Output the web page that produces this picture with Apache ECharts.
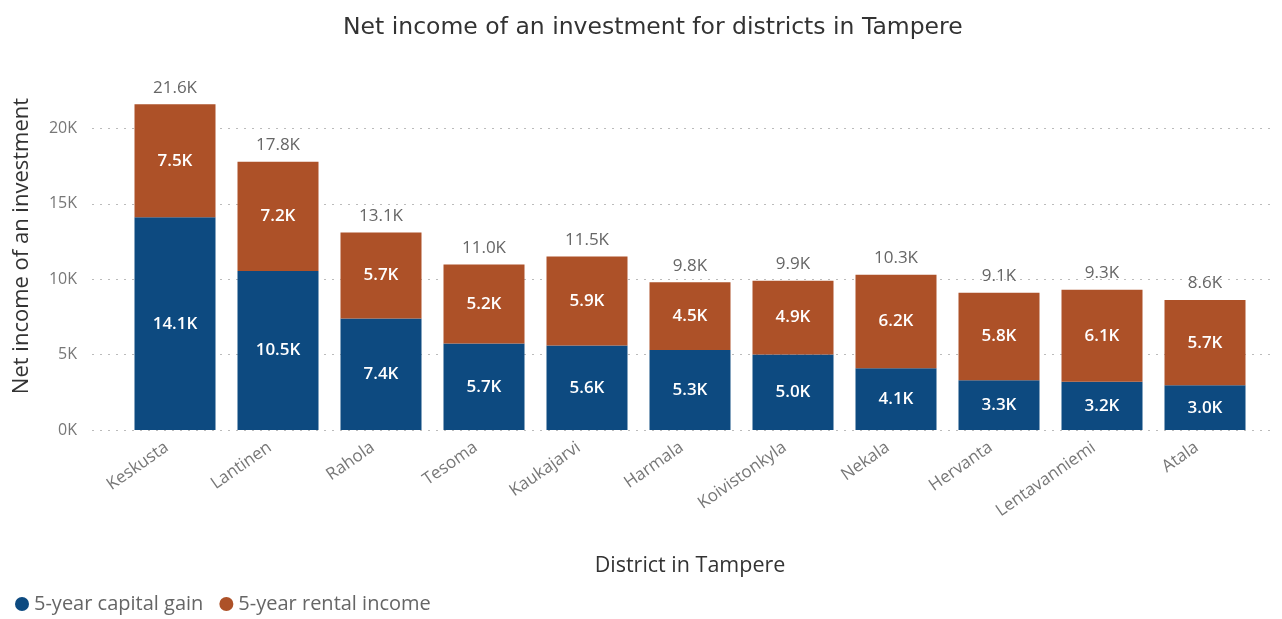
<!DOCTYPE html>
<html><head><meta charset="utf-8">
<script src="https://cdn.jsdelivr.net/npm/echarts@6/dist/echarts.min.js"></script>
<style>html,body{margin:0;padding:0;background:#fff}#c{width:1282px;height:619px}</style>
</head><body><div id="c"></div>
<script>
const districts = ['Keskusta','Lantinen','Rahola','Tesoma','Kaukajarvi','Harmala','Koivistonkyla','Nekala','Hervanta','Lentavanniemi','Atala'];
const capitalGain = [14100,10540,7400,5740,5600,5300,5000,4100,3300,3200,2960];
const rentalIncome = [7500,7240,5700,5240,5900,4500,4900,6200,5800,6100,5660];
const totals = [21600,17800,13100,11000,11500,9800,9900,10300,9100,9300,8600];
const yTicks = [0,5000,10000,15000,20000];

const fmtK = v => (v/1000).toFixed(1) + 'K';
const chart = echarts.init(document.getElementById('c'), null, {renderer:'canvas'});
const font = '"Open Sans", "Noto Sans", sans-serif';
const yMax = 24400;
chart.setOption({
  animation:false,
  title:{text:'Net income of an investment for districts in Tampere', left:338, top:11,
    textStyle:{fontFamily:'"DejaVu Sans", sans-serif', fontSize:23.5, fontWeight:'normal', color:'#333'}},
  legend:{data:['5-year capital gain','5-year rental income'], left:10, top:589, icon:'circle', itemWidth:14, itemHeight:14, itemGap:16,
    textStyle:{fontFamily:font, fontSize:20, color:'#666'}},
  grid:[
    {left:92, right:7, top:62, bottom:189},
    {left:123.5, right:25.5, top:62, bottom:189}
  ],
  xAxis:[
    {type:'category', gridIndex:0, data:[''], show:false},
    {type:'category', gridIndex:1, data:districts,
      axisLine:{show:false}, axisTick:{show:false},
      axisLabel:{rotate:35, color:'#777', fontFamily:font, fontSize:17, margin:10, interval:0, padding:[0,10,0,0]},
      name:'District in Tampere', nameLocation:'middle', nameGap:125,
      nameTextStyle:{fontFamily:font, fontSize:21.5, color:'#333'}}
  ],
  yAxis:[
    {type:'value', gridIndex:0, min:0, max:yMax, interval:5000,
      axisLabel:{formatter:v => yTicks.includes(v) ? (v/1000)+'K' : '', color:'#777', fontFamily:font, fontSize:16, margin:15, showMaxLabel:false},
      splitLine:{lineStyle:{type:[2,6], color:'#bbb', width:1}, showMaxLine:false},
      axisLine:{show:false}, axisTick:{show:false},
      name:'Net income of an investment', nameLocation:'middle', nameGap:59,
      nameTextStyle:{fontFamily:font, fontSize:22, color:'#333'}},
    {type:'value', gridIndex:1, min:0, max:yMax, interval:5000, show:false, splitLine:{show:false}}
  ],
  series:[
    {name:'5-year capital gain', type:'bar', stack:'s', xAxisIndex:1, yAxisIndex:1, barWidth:81, data:capitalGain,
      itemStyle:{color:'#0d4a80'},
      label:{show:true, position:'inside', formatter:p=>fmtK(p.value), color:'#fff', fontFamily:font, fontSize:17, fontWeight:600}},
    {name:'5-year rental income', type:'bar', stack:'s', xAxisIndex:1, yAxisIndex:1, barWidth:81, data:rentalIncome,
      itemStyle:{color:'#ad5128'},
      label:{show:true, position:'inside', formatter:p=>fmtK(p.value), color:'#fff', fontFamily:font, fontSize:17, fontWeight:600}},
    {name:'total', type:'bar', stack:'s', xAxisIndex:1, yAxisIndex:1, barWidth:81, data:totals.map(()=>0),
      itemStyle:{color:'transparent'},
      label:{show:true, position:'top', distance:8, formatter:p=>fmtK(totals[p.dataIndex]), color:'#666', fontFamily:font, fontSize:17}}
  ]
});
</script></body></html>
